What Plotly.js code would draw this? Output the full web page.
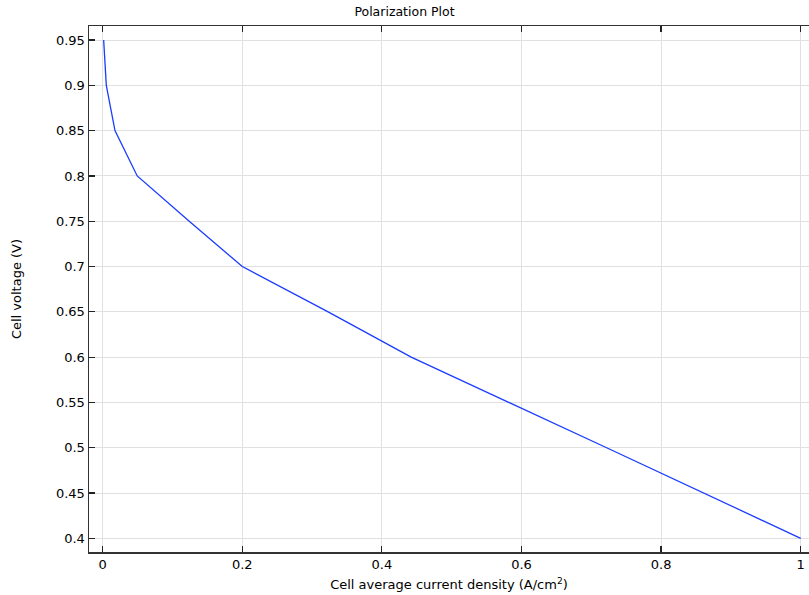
<!DOCTYPE html>
<html>
<head>
<meta charset="utf-8">
<script src="https://cdn.plot.ly/plotly-3.0.1.min.js"></script>
<style>html,body{margin:0;padding:0;background:#fff;}#chart{width:809px;height:595px;}</style>
</head>
<body>
<div id="chart"></div>
<script>
const currentDensity = [0.0014, 0.0052, 0.0176, 0.0495, 0.124, 0.2, 0.323, 0.442, 0.722, 1.0];
const cellVoltage = [0.95, 0.9, 0.85, 0.8, 0.75, 0.7, 0.65, 0.6, 0.5, 0.4];
const xTicks = [0, 0.2, 0.4, 0.6, 0.8, 1];
const xTickLabels = ['0', '0.2', '0.4', '0.6', '0.8', '1'];
const yTicks = [0.4, 0.45, 0.5, 0.55, 0.6, 0.65, 0.7, 0.75, 0.8, 0.85, 0.9, 0.95];
const yTickLabels = ['0.4', '0.45', '0.5', '0.55', '0.6', '0.65', '0.7', '0.75', '0.8', '0.85', '0.9', '0.95'];

const font = {family: 'DejaVu Sans, sans-serif', size: 13, color: '#000'};
Plotly.newPlot('chart', [{
  x: currentDensity, y: cellVoltage, type: 'scatter', mode: 'lines',
  line: {color: '#1a3cff', width: 1.3}, hoverinfo: 'none'
}], {
  width: 809, height: 595,
  margin: {l: 89, r: 0, t: 26, b: 43},
  paper_bgcolor: '#fff', plot_bgcolor: '#fff',
  showlegend: false,
  font: font,
  title: {text: 'Polarization Plot', font: {family: 'DejaVu Sans, sans-serif', size: 12.5, color: '#000'}, x: 0.5, xanchor: 'center', y: 0.988, yanchor: 'top'},
  xaxis: {
    range: [-0.0196, 1.0119], tickmode: 'array', tickvals: xTicks, ticktext: xTickLabels,
    ticks: 'inside', ticklen: 6, tickcolor: '#222', tickwidth: 1.2,
    showline: true, linecolor: '#333', linewidth: 1.5, mirror: 'ticks',
    showgrid: true, gridcolor: '#e0e0e0', gridwidth: 1, zeroline: false,
    tickfont: font,
    title: {text: 'Cell average current density (A/cm<sup>2</sup>)', font: font, standoff: 9}
  },
  yaxis: {
    range: [0.3849, 0.9655], tickmode: 'array', tickvals: yTicks, ticktext: yTickLabels,
    ticks: 'inside', ticklen: 6, tickcolor: '#222', tickwidth: 1.2,
    showline: true, linecolor: '#333', linewidth: 1.5, mirror: false,
    showgrid: true, gridcolor: '#e0e0e0', gridwidth: 1, zeroline: false,
    tickfont: font,
    title: {text: 'Cell voltage (V)', font: font, standoff: 31}
  }
}, {staticPlot: true});
</script>
</body>
</html>
